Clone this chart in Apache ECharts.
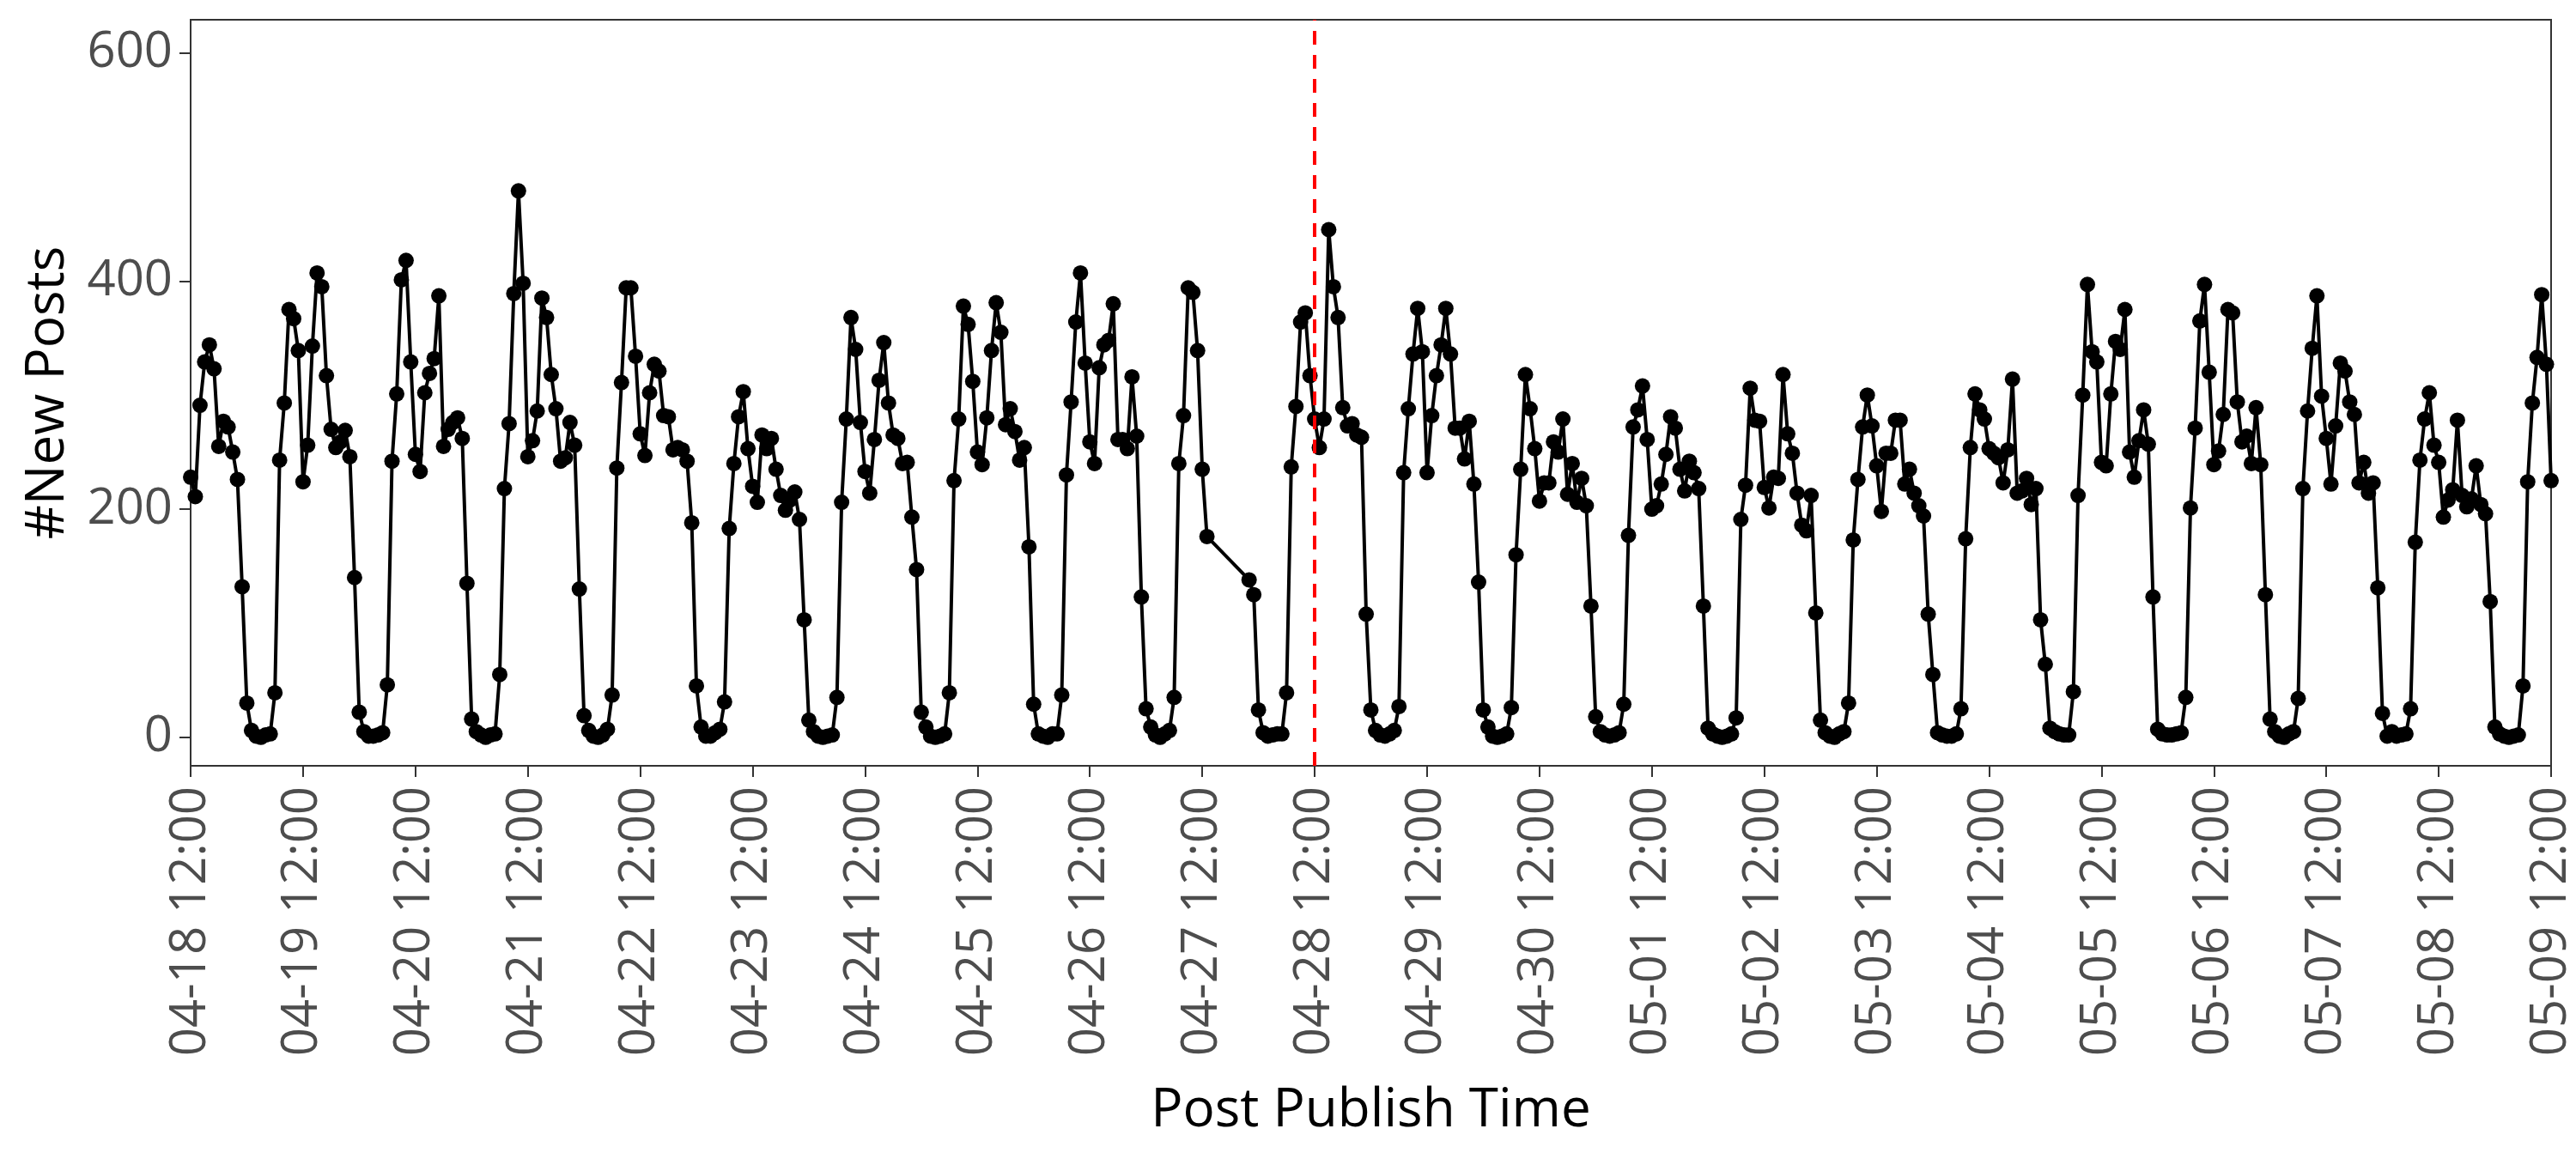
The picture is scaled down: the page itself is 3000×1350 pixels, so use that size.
<!DOCTYPE html>
<html>
<head>
<meta charset="utf-8">
<script src="https://cdn.jsdelivr.net/npm/echarts@6/dist/echarts.min.js"></script>
<style>
  html, body { margin: 0; padding: 0; background: #fff; }
  #chart { width: 3000px; height: 1350px; }
</style>
</head>
<body>
<div id="chart"></div>
<script>
// one tick per day, at 12:00
var xTickLabels = ['04-18 12:00', '04-19 12:00', '04-20 12:00', '04-21 12:00', '04-22 12:00',
  '04-23 12:00', '04-24 12:00', '04-25 12:00', '04-26 12:00', '04-27 12:00', '04-28 12:00',
  '04-29 12:00', '04-30 12:00', '05-01 12:00', '05-02 12:00', '05-03 12:00', '05-04 12:00',
  '05-05 12:00', '05-06 12:00', '05-07 12:00', '05-08 12:00', '05-09 12:00'];
var yTicks = [0, 200, 400, 600];

// hourly new posts, starting 04-18 12:00 (null = no data for that hour)
var hourlyPosts = [
  228, 211, 291, 329, 344, 323, 255, 277, 272, 250, 226, 132, 30, 6, 1, 0, 2, 3, 39, 243, 293, 375, 367, 339,
  224, 256, 343, 407, 395, 317, 270, 254, 259, 269, 246, 140, 22, 5, 1, 1, 2, 4, 46, 242, 301, 401, 418, 329,
  248, 233, 302, 319, 332, 387, 255, 270, 276, 280, 262, 135, 16, 5, 2, 0, 2, 3, 55, 218, 275, 389, 479, 398,
  246, 260, 286, 385, 368, 318, 288, 242, 245, 276, 256, 130, 19, 6, 1, 0, 2, 7, 37, 236, 311, 394, 394, 334,
  266, 247, 302, 327, 321, 282, 281, 252, 254, 252, 242, 188, 45, 9, 1, 1, 4, 7, 31, 183, 240, 281, 303, 253,
  220, 206, 265, 253, 262, 235, 212, 199, 208, 215, 191, 103, 15, 5, 1, 0, 1, 2, 35, 206, 279, 368, 340, 276,
  233, 214, 261, 313, 346, 293, 265, 262, 240, 241, 193, 147, 22, 9, 1, 0, 1, 3, 39, 225, 279, 378, 362, 312,
  250, 239, 280, 339, 381, 355, 274, 288, 268, 243, 254, 167, 29, 3, 1, 0, 3, 3, 37, 230, 294, 364, 407, 328,
  259, 240, 324, 344, 348, 380, 261, 261, 253, 316, 264, 123, 25, 9, 2, 0, 3, 6, 35, 240, 282, 394, 390, 339,
  235, 176, null, null, null, null, null, null, null, null, 138, 125, 24, 4, 1, 2, 3, 3, 39, 237, 290, 364, 372, 317,
  279, 254, 279, 445, 395, 368, 289, 273, 275, 265, 263, 108, 24, 6, 2, 1, 3, 6, 27, 232, 288, 336, 376, 338,
  232, 282, 317, 344, 376, 336, 271, 271, 244, 277, 222, 136, 24, 9, 1, 0, 1, 3, 26, 160, 235, 318, 288, 253,
  207, 223, 223, 259, 250, 279, 213, 240, 206, 227, 203, 115, 18, 5, 2, 1, 2, 4, 29, 177, 272, 287, 308, 261,
  200, 203, 222, 248, 281, 271, 235, 216, 242, 232, 218, 115, 8, 3, 1, 0, 1, 3, 17, 191, 221, 306, 278, 277,
  219, 201, 228, 227, 318, 266, 249, 214, 186, 181, 212, 109, 15, 4, 1, 0, 3, 5, 30, 173, 226, 272, 300, 273,
  238, 198, 249, 249, 278, 278, 222, 235, 214, 203, 194, 108, 55, 4, 2, 1, 1, 3, 25, 174, 254, 301, 287, 279,
  253, 249, 245, 223, 252, 314, 214, 216, 227, 204, 218, 103, 64, 8, 5, 3, 2, 2, 40, 212, 300, 397, 338, 329,
  241, 238, 301, 347, 340, 375, 250, 228, 260, 287, 257, 123, 7, 3, 2, 2, 3, 4, 35, 201, 271, 365, 397, 320,
  239, 251, 283, 375, 372, 294, 259, 264, 240, 289, 239, 125, 16, 5, 1, 0, 3, 5, 34, 218, 286, 341, 387, 299,
  262, 222, 273, 328, 321, 294, 283, 223, 241, 214, 223, 131, 21, 1, 5, 1, 2, 3, 25, 171, 243, 279, 302, 256,
  241, 193, 208, 217, 278, 212, 202, 209, 238, 204, 196, 119, 9, 3, 1, 0, 1, 2, 45, 224, 293, 333, 388, 327,
  225
];
var cutoffHour = 240;

var points = [];
hourlyPosts.forEach(function (v, h) {
  if (v !== null) points.push([h, v]);
});

var chart = echarts.init(document.getElementById('chart'), null, { renderer: 'canvas' });
var option = {
  animation: false,
  backgroundColor: '#ffffff',
  textStyle: { fontFamily: 'Open Sans' },
  grid: {
    left: 222, right: 24, top: 23, bottom: 458,
    show: true, borderColor: '#333333', borderWidth: 2
  },
  xAxis: {
    type: 'value',
    min: 0, max: 504, interval: 24,
    name: 'Post Publish Time',
    nameLocation: 'middle',
    nameGap: 371,
    nameTextStyle: { fontSize: 62, color: '#000000', fontFamily: 'Open Sans' },
    axisLine: { show: false, onZero: false },
    axisTick: { show: true, inside: false, length: 13, lineStyle: { color: '#333333', width: 2 } },
    axisLabel: {
      rotate: 90, margin: 24, fontSize: 58, color: '#4d4d4d', fontFamily: 'Open Sans',
      formatter: function (v) { return xTickLabels[Math.round(v / 24)]; }
    },
    splitLine: { show: false }
  },
  yAxis: {
    type: 'value',
    min: -25, max: 629,
    name: '#New Posts',
    nameLocation: 'middle',
    nameGap: 135,
    nameTextStyle: { fontSize: 62, color: '#000000', fontFamily: 'Open Sans' },
    axisLine: { show: false, onZero: false },
    axisTick: { show: true, inside: false, length: 13, customValues: yTicks, lineStyle: { color: '#333333', width: 2 } },
    axisLabel: { margin: 21, fontSize: 58, color: '#4d4d4d', fontFamily: 'Open Sans', customValues: yTicks },
    splitLine: { show: false }
  },
  series: [{
    type: 'line',
    data: points,
    symbol: 'circle',
    symbolSize: 18,
    showAllSymbol: true,
    itemStyle: { color: '#000000' },
    lineStyle: { color: '#000000', width: 4 },
    markLine: {
      silent: true,
      symbol: ['none', 'none'],
      label: { show: false },
      lineStyle: { color: '#ff0000', width: 4, type: [16, 12] },
      data: [{ xAxis: cutoffHour }]
    }
  }]
};
chart.setOption(option);
</script>
</body>
</html>
